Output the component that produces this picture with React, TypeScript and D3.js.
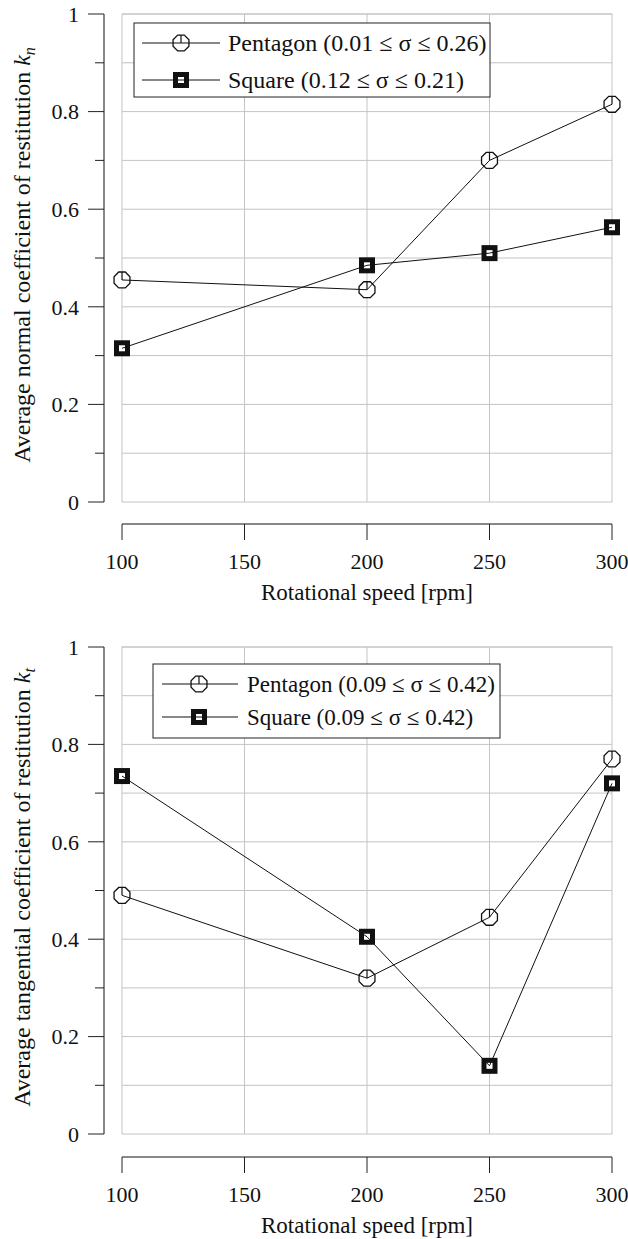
import React from "react";
import * as d3 from "d3";

const xValues = [100, 200, 250, 300];
const normalPentagon = [0.455, 0.435, 0.70, 0.815];
const normalSquare = [0.315, 0.485, 0.51, 0.563];
const tangPentagon = [0.49, 0.32, 0.445, 0.77];
const tangSquare = [0.735, 0.405, 0.14, 0.72];
const xTicks = [100, 150, 200, 250, 300];
const yMajorTicks = [0, 0.2, 0.4, 0.6, 0.8, 1];
const yMinorTicks = [0.1, 0.3, 0.5, 0.7, 0.9];
const yGrid = [0.1, 0.2, 0.3, 0.4, 0.5, 0.6, 0.7, 0.8, 0.9, 1];
const xGrid = [150, 200, 250];

const FONT = "'Liberation Serif', 'Times New Roman', serif";
const W = 628;
const H = 1239;

const octagonPoints = (cx: number, cy: number, r: number) =>
  d3.range(8)
    .map((i) => {
      const a = (Math.PI / 8) + (i * Math.PI) / 4;
      return `${cx + r * Math.cos(a)},${cy + r * Math.sin(a)}`;
    })
    .join(" ");

function PentagonMarker({ cx, cy }: { cx: number; cy: number }) {
  const r = 8.6;
  return (
    <g>
      <polygon points={octagonPoints(cx, cy, r)} fill="#fff" stroke="#111" strokeWidth={1.3} />
      <line x1={cx} y1={cy - r * 0.92} x2={cx} y2={cy} stroke="#111" strokeWidth={1.2} />
    </g>
  );
}

function SquareMarker({ cx, cy }: { cx: number; cy: number }) {
  const s = 16;
  const i = 6;
  return (
    <g>
      <rect x={cx - s / 2} y={cy - s / 2} width={s} height={s} fill="#111" />
      <rect x={cx - i / 2} y={cy - i / 2} width={i} height={i} fill="#fff" />
    </g>
  );
}

type Panel = {
  top: number;
  bottom: number;
  xAxisY: number;
  pent: number[];
  sq: number[];
  yTitle: string;
  sub: string;
  legend: {
    x: number; y: number; w: number; h: number;
    rows: number[]; l1: number; l2: number; mx: number; tx: number; fs: number;
    labels: string[];
  };
};

const panels: Panel[] = [
  {
    top: 14, bottom: 502, xAxisY: 524,
    pent: normalPentagon, sq: normalSquare,
    yTitle: "Average normal coefficient of restitution ", sub: "n",
    legend: {
      x: 134, y: 23, w: 356, h: 74, rows: [43, 80], l1: 142, l2: 220, mx: 181, tx: 228, fs: 24,
      labels: ["Pentagon (0.01 \u2264 \u03c3 \u2264 0.26)", "Square (0.12 \u2264 \u03c3 \u2264 0.21)"],
    },
  },
  {
    top: 647, bottom: 1134, xAxisY: 1157,
    pent: tangPentagon, sq: tangSquare,
    yTitle: "Average tangential coefficient of restitution ", sub: "t",
    legend: {
      x: 153, y: 664, w: 347, h: 74, rows: [684, 717], l1: 162, l2: 238, mx: 199, tx: 247, fs: 23,
      labels: ["Pentagon (0.09 \u2264 \u03c3 \u2264 0.42)", "Square (0.09 \u2264 \u03c3 \u2264 0.42)"],
    },
  },
];

const AXIS_X = 104;
const PLOT_L = 122;
const PLOT_R = 612;
const FS_TICK = 22;
const FS_TITLE = 23;
const FS_YTITLE = 24;

function ChartPanel({ p }: { p: Panel }) {
  const x = d3.scaleLinear().domain([100, 300]).range([PLOT_L, PLOT_R]);
  const y = d3.scaleLinear().domain([0, 1]).range([p.bottom, p.top]);
  const line = d3
    .line<number>()
    .x((_, i) => x(xValues[i]))
    .y((d) => y(d));
  const lg = p.legend;
  const midY = (p.top + p.bottom) / 2;
  return (
    <g>
      {yGrid.map((v) => (
        <line key={"gy" + v} x1={PLOT_L} x2={PLOT_R} y1={y(v)} y2={y(v)} stroke="#c4c4c4" strokeWidth={1} />
      ))}
      {xGrid.map((v) => (
        <line key={"gx" + v} x1={x(v)} x2={x(v)} y1={p.top} y2={p.bottom} stroke="#c4c4c4" strokeWidth={1} />
      ))}
      <rect x={PLOT_L} y={p.top} width={PLOT_R - PLOT_L} height={p.bottom - p.top} fill="none" stroke="#c4c4c4" strokeWidth={1} />

      <line x1={AXIS_X} x2={AXIS_X} y1={p.top} y2={p.bottom} stroke="#111" strokeWidth={1} />
      {yMajorTicks.map((v) => (
        <g key={"yt" + v}>
          <line x1={AXIS_X - 16} x2={AXIS_X} y1={y(v)} y2={y(v)} stroke="#222" strokeWidth={1} />
          <text x={79} y={y(v)} dy="0.35em" textAnchor="end" fontFamily={FONT} fontSize={FS_TICK} fill="#111">
            {d3.format("")(v)}
          </text>
        </g>
      ))}
      {yMinorTicks.map((v) => (
        <line key={"ym" + v} x1={AXIS_X - 9} x2={AXIS_X} y1={y(v)} y2={y(v)} stroke="#222" strokeWidth={1} />
      ))}
      <text
        transform={`translate(30,${midY - 3}) rotate(-90)`}
        textAnchor="middle"
        fontFamily={FONT}
        fontSize={FS_YTITLE}
        fill="#111"
      >
        {p.yTitle}
        <tspan fontStyle="italic">k</tspan>
        <tspan fontStyle="italic" fontSize={16} dy={5}>{p.sub}</tspan>
      </text>

      <line x1={PLOT_L} x2={PLOT_R} y1={p.xAxisY} y2={p.xAxisY} stroke="#111" strokeWidth={1} />
      {xTicks.map((v) => (
        <g key={"xt" + v}>
          <line x1={x(v)} x2={x(v)} y1={p.xAxisY} y2={p.xAxisY + 16} stroke="#222" strokeWidth={1} />
          <text x={x(v)} y={p.xAxisY + 37} dy="0.35em" textAnchor="middle" fontFamily={FONT} fontSize={FS_TICK} fill="#111">
            {v}
          </text>
        </g>
      ))}
      <text x={(PLOT_L + PLOT_R) / 2} y={p.xAxisY + 68} dy="0.35em" textAnchor="middle" fontFamily={FONT} fontSize={FS_TITLE} fill="#111">
        Rotational speed [rpm]
      </text>

      {p.pent.map((v, i) => (
        <PentagonMarker key={"pm" + i} cx={x(xValues[i])} cy={y(v)} />
      ))}
      {p.sq.map((v, i) => (
        <SquareMarker key={"sm" + i} cx={x(xValues[i])} cy={y(v)} />
      ))}
      <path d={line(p.pent) || ""} fill="none" stroke="#111" strokeWidth={1} />
      <path d={line(p.sq) || ""} fill="none" stroke="#111" strokeWidth={1} />

      <rect x={lg.x} y={lg.y} width={lg.w} height={lg.h} fill="#fff" stroke="#222" strokeWidth={1} />
      {lg.rows.map((ry, i) => (
        <g key={"lg" + i}>
          {i === 0 ? <PentagonMarker cx={lg.mx} cy={ry} /> : <SquareMarker cx={lg.mx} cy={ry} />}
          <line x1={lg.l1} x2={lg.l2} y1={ry} y2={ry} stroke="#111" strokeWidth={1} />
          <text x={lg.tx} y={ry} dy="0.35em" fontFamily={FONT} fontSize={lg.fs} fill="#111">
            {lg.labels[i]}
          </text>
        </g>
      ))}
    </g>
  );
}

export default function App() {
  return (
    <svg width={W} height={H} style={{ position: "absolute", left: 0, top: 0, background: "#fff" }}>
      <rect x={0} y={0} width={W} height={H} fill="#fff" />
      {panels.map((p, i) => (
        <ChartPanel key={i} p={p} />
      ))}
    </svg>
  );
}
